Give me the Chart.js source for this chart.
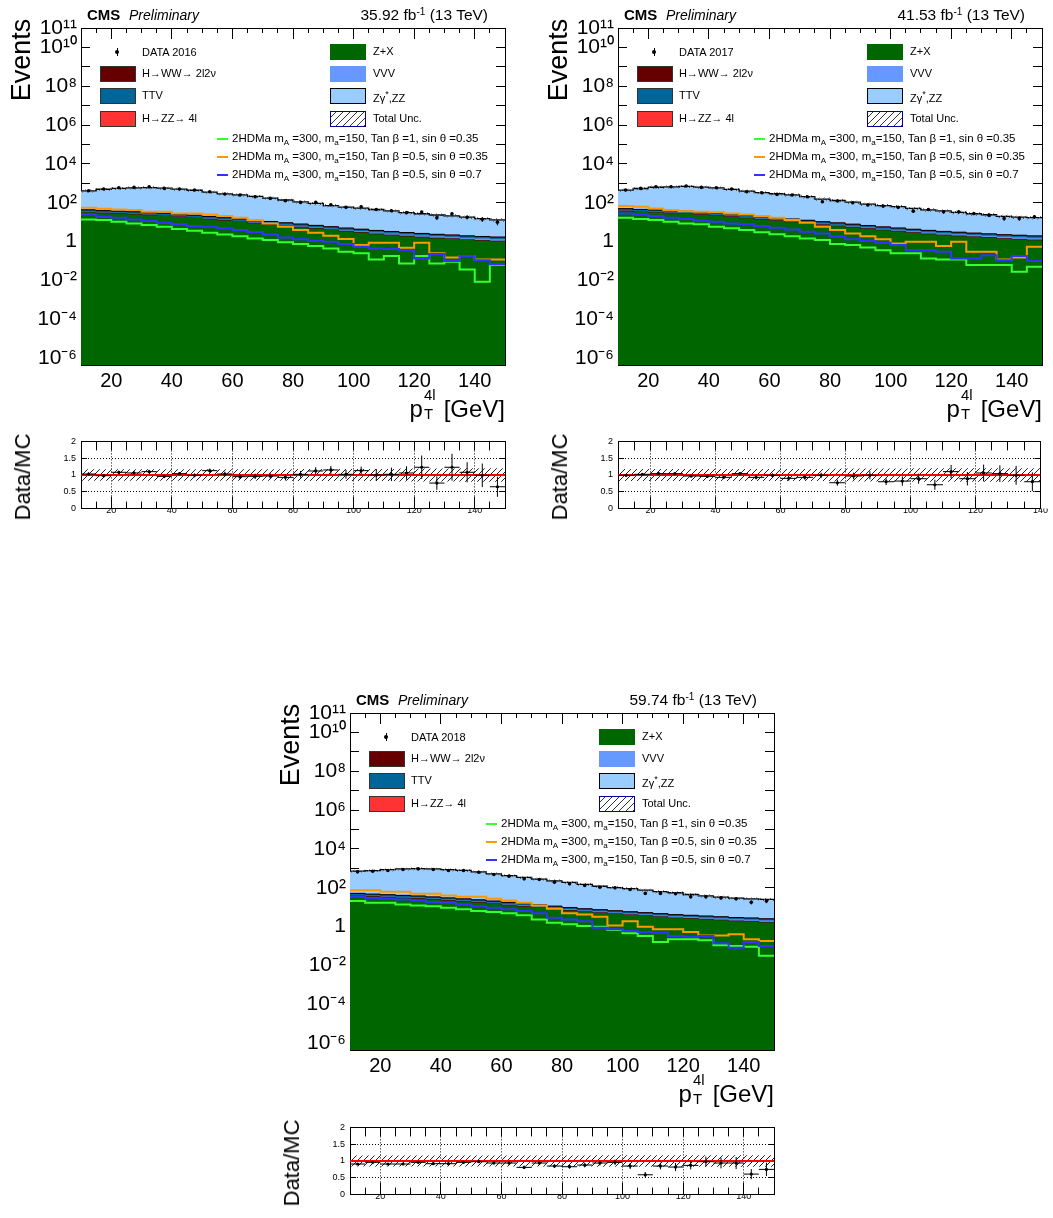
<!DOCTYPE html>
<html><head><meta charset="utf-8">
<script src="https://cdn.jsdelivr.net/npm/chart.js@4.4.1/dist/chart.umd.min.js"></script>
<style>
html,body{margin:0;padding:0;background:#fff;}
body{width:1053px;height:1218px;position:relative;overflow:hidden;font-family:'Liberation Sans',Arial,Helvetica,sans-serif;color:#000;}
canvas{position:absolute;}
.t{position:absolute;white-space:nowrap;line-height:1;}
.rot{position:absolute;white-space:nowrap;line-height:1;transform:translate(-50%,-50%) rotate(-90deg);}
.box{position:absolute;box-sizing:border-box;}
.lg{position:absolute;white-space:nowrap;line-height:1;font-size:11px;}
.sg{position:absolute;white-space:nowrap;line-height:1;font-size:11.5px;}
.sg sub{font-size:70%;vertical-align:-3px;line-height:0;}
</style></head><body>
<script>
const FONT = "'Liberation Sans', Arial, sans-serif";
Chart.defaults.font.family = FONT;
Chart.defaults.color = '#000';

// ---------- axes / categories ----------
const binEdges = [10,15,20,25,30,35,40,45,50,55,60,65,70,75,80,85,90,95,100,105,110,115,120,125,130,135,140,145,150];
const xMajorTicks = [20,40,60,80,100,120,140];
const yDecades = [-6,-5,-4,-3,-2,-1,0,1,2,3,4,5,6,7,8,9,10,11];
const yLabelled = [-6,-4,-2,0,2,4,6,8,10,11];
const ratioTicks = [0,0.5,1,1.5,2];
const ratioTickLabels = ['0','0.5','1','1.5','2'];
const Y_MIN = 4.4e-7, Y_MAX = 1e11;

// ---------- 2016 ----------
const data2016 = [416,507,594,618,668,548,507,450,369,280,249,204,167,127,104,104,79,58,62,45,39,31,33,17,27,18,14,10];
const zx2016  = [32,29,27,25,23,20.6,18.3,16.2,13.9,11.8,10.1,8.6,7.4,6.3,5.4,4.6,3.9,3.3,2.85,2.4,2.1,1.85,1.64,1.46,1.35,1.19,1.1,1.02];
const hww2016 = [0.9,0.8,0.75,0.7,0.65,0.6,0.5,0.45,0.4,0.35,0.3,0.26,0.22,0.19,0.16,0.14,0.12,0.1,0.09,0.08,0.07,0.06,0.055,0.05,0.045,0.04,0.035,0.03];
const vvv2016 = [1.2,1.1,1.1,1.0,1.0,0.95,0.9,0.85,0.8,0.75,0.7,0.65,0.6,0.55,0.5,0.46,0.43,0.4,0.37,0.35,0.33,0.31,0.3,0.29,0.28,0.27,0.26,0.25];
const ttv2016 = [9,8.5,8,7.5,7,6.5,6,5.3,4.6,4,3.5,3.0,2.6,2.2,1.9,1.6,1.35,1.15,1.0,0.9,0.8,0.7,0.62,0.55,0.5,0.46,0.43,0.4];
const hzz2016 = [0.3,0.3,0.3,0.28,0.26,0.24,0.22,0.2,0.18,0.16,0.14,0.12,0.1,0.09,0.08,0.07,0.06,0.05,0.045,0.04,0.035,0.03,0.027,0.024,0.021,0.019,0.017,0.015];
const zz2016  = [367,456,514,551,569,542,475,417,330,268,241,200,164,129,102,85,66,55,49,41,35,28,24.5,21,19,16,13.3,11.4];
const sigG2016 = [13.9,12.8,10.5,8.6,7.1,5.8,4.4,3.6,2.85,2.3,1.9,1.46,1.19,0.91,0.74,0.59,0.44,0.30,0.25,0.12,0.18,0.075,0.18,0.075,0.091,0.037,0.0085,0.062];
const sigO2016 = [55,49,45,42,34,34,28,28,25,20.6,16.9,12.8,8.6,5.8,3.9,2.85,2.0,1.35,0.66,0.87,0.87,0.48,0.87,0.25,0.153,0.179,0.12,0.12];
const sigB2016 = [25,19,16.9,13.9,11.4,9.3,7.7,6.3,5.8,4.8,3.9,3.1,2.3,1.6,1.3,1.1,0.98,0.74,0.54,0.44,0.41,0.36,0.135,0.23,0.10,0.18,0.11,0.067];
const unc2016 = [0.17,0.17,0.17,0.17,0.17,0.17,0.17,0.17,0.17,0.17,0.17,0.17,0.17,0.17,0.18,0.18,0.18,0.18,0.18,0.18,0.18,0.19,0.19,0.19,0.19,0.2,0.2,0.2];
const ratio2016 = [1.03,0.98,1.08,1.06,1.10,0.96,1.04,0.99,1.13,1.03,0.95,0.96,0.97,0.93,1.02,1.12,1.15,1.02,1.13,1.0,1.02,1.06,1.23,0.76,1.23,1.08,0.99,0.65];
const ratioErr2016 = [0.05,0.05,0.05,0.05,0.05,0.05,0.05,0.06,0.06,0.07,0.07,0.08,0.08,0.09,0.1,0.11,0.12,0.13,0.12,0.18,0.2,0.2,0.35,0.2,0.4,0.3,0.35,0.3];

// ---------- 2017 ----------
const data2017 = [450,548,668,668,723,618,594,507,369,328,269,249,204,113,122,100,76,67,58,37,45,34,34,28,23,15.6,15.6,19];
const zx2017  = [37,33,31,29,26.5,23.7,21,18.6,16,13.6,11.6,9.9,8.5,7.2,6.2,5.3,4.5,3.8,3.3,2.8,2.4,2.1,1.9,1.7,1.55,1.37,1.27,1.17];
const hww2017 = [1.0,0.9,0.85,0.8,0.75,0.7,0.6,0.52,0.46,0.4,0.35,0.3,0.25,0.22,0.18,0.16,0.14,0.12,0.1,0.09,0.08,0.07,0.063,0.058,0.052,0.046,0.04,0.035];
const vvv2017 = [1.4,1.3,1.3,1.2,1.15,1.1,1.05,1.0,0.92,0.86,0.8,0.75,0.7,0.63,0.58,0.53,0.5,0.46,0.43,0.4,0.38,0.36,0.35,0.33,0.32,0.31,0.3,0.29];
const ttv2017 = [10,9.8,9.2,8.6,8,7.5,6.9,6.1,5.3,4.6,4,3.5,3.0,2.5,2.2,1.85,1.55,1.3,1.15,1.0,0.9,0.8,0.71,0.63,0.57,0.53,0.5,0.46];
const hzz2017 = [0.35,0.35,0.35,0.32,0.3,0.28,0.25,0.23,0.21,0.18,0.16,0.14,0.12,0.1,0.09,0.08,0.07,0.06,0.05,0.045,0.04,0.035,0.03,0.028,0.025,0.022,0.02,0.017];
const zz2017  = [402,495,587,615,663,601,560,463,377,310,273,240,192,144,121,100,78,66,58,46.7,39.2,34.6,29,24.3,21.5,17.7,15.9,15];
const sigG2017 = [17,14.4,12.8,10.5,8.6,7.7,5.8,4.8,3.9,3.0,2.4,1.9,1.46,1.19,0.74,0.66,0.5,0.36,0.25,0.25,0.135,0.12,0.12,0.062,0.062,0.062,0.028,0.05];
const sigO2017 = [67,62,51,42,37,34,32,28,25,21,17,12.8,9.4,5.8,3.9,2.6,1.9,1.3,0.8,0.98,0.98,0.59,0.98,0.3,0.3,0.12,0.15,0.54];
const sigB2017 = [28,25,21,17,14.4,11.8,10.5,8.6,7.7,6.3,5.2,4.2,3.2,2.6,1.8,1.3,1.06,0.87,0.66,0.36,0.36,0.30,0.135,0.135,0.2,0.11,0.18,0.1];
const unc2017 = [0.18,0.18,0.18,0.18,0.18,0.18,0.18,0.18,0.18,0.18,0.18,0.18,0.18,0.19,0.19,0.19,0.19,0.19,0.2,0.2,0.2,0.2,0.2,0.2,0.2,0.2,0.2,0.2];
const ratio2017 = [0.99,1.02,1.04,1.04,0.97,0.96,0.93,1.04,0.93,0.99,0.90,0.93,0.99,0.77,0.97,0.99,0.80,0.82,0.89,0.71,1.10,0.89,1.06,1.04,0.99,0.80];
const ratioErr2017 = [0.04,0.04,0.04,0.04,0.05,0.05,0.05,0.05,0.06,0.06,0.07,0.07,0.08,0.09,0.1,0.12,0.1,0.14,0.15,0.15,0.2,0.2,0.25,0.25,0.28,0.28];

// ---------- 2018 ----------
const data2018 = [658,713,771,867,939,867,771,771,632,481,395,288,266,194,159,131,107,99,81,51,51,49,34,34,30,27,18,20.5];
const zx2018  = [37,34,31.6,29,27,24,21.3,18.9,16.8,14.4,12.3,10.5,9.0,7.7,6.5,5.6,5.0,4.4,3.9,3.5,3.1,2.7,2.5,2.3,2.1,1.9,1.8,1.6];
const hww2018 = [1.2,1.1,1.0,0.95,0.9,0.8,0.7,0.62,0.55,0.48,0.41,0.35,0.3,0.26,0.22,0.19,0.17,0.15,0.13,0.12,0.1,0.09,0.085,0.078,0.07,0.064,0.06,0.054];
const vvv2018 = [1.8,1.7,1.6,1.55,1.5,1.45,1.35,1.3,1.2,1.1,1.0,0.92,0.85,0.78,0.7,0.64,0.6,0.55,0.5,0.47,0.44,0.42,0.4,0.38,0.36,0.35,0.34,0.33];
const ttv2018 = [11,10,9.4,8.7,8,7.3,6.5,5.8,5.2,4.5,3.9,3.4,2.9,2.5,2.1,1.8,1.6,1.4,1.25,1.1,1.0,0.9,0.8,0.72,0.66,0.6,0.56,0.52];
const hzz2018 = [0.5,0.5,0.5,0.45,0.4,0.4,0.35,0.3,0.3,0.25,0.22,0.2,0.17,0.15,0.13,0.11,0.1,0.08,0.07,0.06,0.05,0.05,0.04,0.04,0.03,0.03,0.03,0.03];
const zz2018  = [673,713,806,889,922,901,820,753,626,499,402,325,267,217,178,142,112,96,84,70,58,51,41,34.5,29.8,26,24.2,22.5];
const sigG2018 = [20.5,16.8,16.8,13.8,12.3,11.3,9.3,7.7,6.3,5.6,4.8,3.8,2.3,1.58,1.3,1.06,0.98,0.66,0.45,0.33,0.16,0.22,0.22,0.2,0.108,0.10,0.092,0.031];
const sigO2018 = [75,75,62,62,49,49,40,34,34,27,22,16.8,12.3,8.3,4.8,4.2,3.2,1.15,1.9,0.98,0.72,0.72,0.52,0.35,0.35,0.40,0.22,0.18];
const sigB2018 = [34,30,27,25,22,18.2,16.8,13.8,11.3,9.3,7.7,6.3,4.8,2.85,2.3,1.9,0.87,0.72,0.59,0.52,0.48,0.33,0.30,0.33,0.137,0.082,0.16,0.10];
const unc2018 = [0.16,0.16,0.16,0.16,0.16,0.16,0.16,0.16,0.16,0.16,0.16,0.16,0.16,0.16,0.16,0.16,0.17,0.17,0.17,0.17,0.17,0.17,0.17,0.17,0.17,0.17,0.17,0.17];
const ratio2018 = [0.91,0.96,0.91,0.91,0.96,0.92,0.92,0.96,0.98,0.94,0.94,0.81,0.94,0.85,0.83,0.88,0.94,0.96,0.85,0.59,0.85,0.82,0.87,0.98,0.94,0.94,0.61,0.75];
const ratioErr2018 = [0.03,0.03,0.03,0.03,0.03,0.03,0.03,0.03,0.04,0.04,0.05,0.05,0.05,0.06,0.06,0.07,0.07,0.08,0.09,0.08,0.1,0.12,0.12,0.15,0.16,0.18,0.15,0.2];

// ---------- legend / labels ----------
const stackNames = ['Z+X','H→WW→ 2l2ν','VVV','TTV','H→ZZ→ 4l','Zγ<sup>*</sup>,ZZ'];
const stackColors = ['#006600','#660000','#6699ff','#006699','#ff3333','#99ccff'];
const stackLines  = ['#006600','#4a0000','#5a8ae6','#000000','#cc2222','#000000'];
const stackLineW  = [0,0.8,0.8,1,0.6,1.3];
const sigNames = ['2HDMa m<sub>A</sub> =300, m<sub>a</sub>=150, Tan β =1, sin θ =0.35','2HDMa m<sub>A</sub> =300, m<sub>a</sub>=150, Tan β =0.5, sin θ =0.35','2HDMa m<sub>A</sub> =300, m<sub>a</sub>=150, Tan β =0.5, sin θ =0.7'];
const sigColors = ['#33ff33','#ff9900','#3333ff'];

const panels = [
  {year:'2016', lumi:'35.92', dx:0,   dy:0,   dyr:0,   data:data2016, zx:zx2016, hww:hww2016, vvv:vvv2016, ttv:ttv2016, hzz:hzz2016, zz:zz2016, sig:[sigG2016,sigO2016,sigB2016], unc:unc2016, ratio:ratio2016, ratioErr:ratioErr2016},
  {year:'2017', lumi:'41.53', dx:537, dy:0,   dyr:0,   data:data2017, zx:zx2017, hww:hww2017, vvv:vvv2017, ttv:ttv2017, hzz:hzz2017, zz:zz2017, sig:[sigG2017,sigO2017,sigB2017], unc:unc2017, ratio:ratio2017, ratioErr:ratioErr2017},
  {year:'2018', lumi:'59.74', dx:269, dy:685, dyr:686, data:data2018, zx:zx2018, hww:hww2018, vvv:vvv2018, ttv:ttv2018, hzz:hzz2018, zz:zz2018, sig:[sigG2018,sigO2018,sigB2018], unc:unc2018, ratio:ratio2018, ratioErr:ratioErr2018}
];

// ---------- helpers ----------
const SUPS = {'0':'⁰','1':'¹','2':'²','3':'³','4':'⁴','5':'⁵','6':'⁶','7':'⁷','8':'⁸','9':'⁹','-':'⁻'};
function supStr(n){ return String(n).split('').map(c=>SUPS[c]).join(''); }
function el(cls, html, css){ const e=document.createElement('div'); e.className=cls; e.innerHTML=html; Object.assign(e.style, css); document.body.appendChild(e); return e; }
function addCanvas(left, top, w, h){ const c=document.createElement('canvas'); c.width=w; c.height=h; Object.assign(c.style,{left:left+'px',top:top+'px',width:w+'px',height:h+'px'}); document.body.appendChild(c); return c; }
function makeHatch(color, size){
  const c=document.createElement('canvas'); c.width=size; c.height=size;
  const g=c.getContext('2d'); g.strokeStyle=color; g.lineWidth=1;
  g.beginPath();
  g.moveTo(0,size); g.lineTo(size,0);
  g.moveTo(-size/2,size/2); g.lineTo(size/2,-size/2);
  g.moveTo(size/2,size*1.5); g.lineTo(size*1.5,size/2);
  g.stroke();
  return g.createPattern(c,'repeat');
}
const hatchGrey = makeHatch('#555', 5);
const hatchBlack = makeHatch('#222', 6);
const NONE = 'rgba(0,0,0,0)';
function hist(vals, edges){ edges = edges || binEdges; const p = vals.map((v,i)=>({x:edges[i], y:v})); p.push({x:edges[vals.length], y:vals[vals.length-1]}); return p; }
function centers(n){ return binEdges.slice(0,n).map((e,i)=>(e+binEdges[i+1])/2); }

function tickOnly(axis, position, values, len, min, max, type, weight, border){
  return {type:type, axis:axis, position:position, min:min, max:max, weight:weight, z:1,
    afterBuildTicks: s => { s.ticks = values.map(v=>({value:v})); },
    afterFit: s => { if(axis==='x') s.height=0; else s.width=0; },
    ticks:{display:false},
    grid:{drawOnChartArea:false, drawTicks:true, tickLength:-len, color:'#000', lineWidth:1},
    border:{display:!!border, color:'#000', width:1}};
}

// ---------- main plots ----------
function buildMain(P){
  const cv = addCanvas(P.dx, P.dy, 520, 400);
  const comps = [P.zx, P.hww, P.vvv, P.ttv, P.hzz, P.zz];
  const stack = []; let acc = P.zx.map(()=>0);
  comps.forEach(arr=>{ acc = acc.map((a,i)=>a+arr[i]); stack.push(acc.slice()); });
  const total = stack[stack.length-1];
  const cs = centers(P.data.length);
  const err = [];
  P.data.forEach((v,i)=>{ const e=Math.sqrt(v); err.push({x:cs[i],y:v-e},{x:cs[i],y:v+e},{x:cs[i],y:null}); });
  const ds = [];
  ds.push({data:err, borderColor:'#000', borderWidth:1, pointRadius:0, fill:false, spanGaps:false});
  ds.push({data:P.data.map((v,i)=>({x:cs[i],y:v})), showLine:false, pointRadius:1.8, pointBackgroundColor:'#000', pointBorderColor:'#000', pointBorderWidth:0});
  [2,1,0].forEach(k=>ds.push({data:hist(P.sig[k]), stepped:true, borderColor:sigColors[k], borderWidth:2, pointRadius:0, fill:false}));
  ds.push({data:hist(total.map((t,i)=>t*(1+P.unc[i]))), stepped:true, borderColor:NONE, borderWidth:1, pointRadius:0, fill:'+1', backgroundColor:hatchGrey});
  ds.push({data:hist(total.map((t,i)=>t*(1-P.unc[i]))), stepped:true, borderColor:NONE, borderWidth:1, pointRadius:0, fill:false});
  // smallest cumulative first => drawn on top
  for(let k=0;k<stack.length;k++) ds.push({data:hist(stack[k]), stepped:true, fill:'start', backgroundColor:stackColors[k],
     borderColor:(stackLineW[k]>0?stackLines[k]:NONE), borderWidth:(stackLineW[k]>0?stackLineW[k]:1), pointRadius:0});
  ds.forEach(d=>{d.xAxisID='x'; d.yAxisID='y';});
  new Chart(cv, {type:'line', data:{datasets:ds}, options:{
    responsive:false, animation:false, devicePixelRatio:1, events:[],
    layout:{padding:{top:28,right:15,left:0,bottom:0}},
    plugins:{legend:{display:false}, tooltip:{enabled:false}},
    scales:{
      x:{type:'linear', axis:'x', position:'bottom', min:10, max:150, weight:1, z:1,
         afterBuildTicks: s=>{ s.ticks = xMajorTicks.map(v=>({value:v})); },
         afterFit: s=>{ s.height=35; },
         ticks:{autoSkip:false, maxRotation:0, padding:18, color:'#000', font:{size:20}, callback:v=>String(v)},
         grid:{drawOnChartArea:false, tickLength:-14, color:'#000', lineWidth:1},
         border:{display:true, color:'#000', width:1}},
      xm: tickOnly('x','bottom', binEdges, 7, 10, 150, 'linear', 0, false),
      xt: tickOnly('x','top', xMajorTicks, 11, 10, 150, 'linear', 1, true),
      xtm: tickOnly('x','top', binEdges, 5, 10, 150, 'linear', 0, false),
      y:{type:'logarithmic', axis:'y', position:'left', min:Y_MIN, max:Y_MAX, z:1,
         afterBuildTicks: s=>{ s.ticks = yDecades.map(e=>({value:Math.pow(10,e)})); },
         afterFit: s=>{ s.width=81; },
         ticks:{autoSkip:false, padding:13, color:'#000', font:{size:21},
           callback:(v)=>{ const e=Math.round(Math.log10(v)); if(!yLabelled.includes(e)) return ''; return e===0?'1':'10'+supStr(e); }},
         grid:{drawOnChartArea:false, tickLength:-9, color:'#000', lineWidth:1},
         border:{display:true, color:'#000', width:1}},
      yr: tickOnly('y','right', yDecades.map(e=>Math.pow(10,e)), 9, Y_MIN, Y_MAX, 'logarithmic', 0, true)
    }
  }});
}

// ---------- ratio plots ----------
function buildRatio(P){
  const n = P.ratio.length, rmax = binEdges[n];
  const cv = addCanvas(P.dx, 425 + P.dyr, 520, 100);
  const cs = centers(n);
  const err = [];
  P.ratio.forEach((r,i)=>{ const e=P.ratioErr[i];
    err.push({x:cs[i],y:r-e},{x:cs[i],y:r+e},{x:cs[i],y:null},{x:binEdges[i],y:r},{x:binEdges[i+1],y:r},{x:cs[i],y:null}); });
  const unc = P.unc.slice(0,n);
  const ds = [
    {data:err, borderColor:'#000', borderWidth:1, pointRadius:0, fill:false, spanGaps:false},
    {data:P.ratio.map((r,i)=>({x:cs[i],y:r})), showLine:false, pointRadius:1.6, pointBackgroundColor:'#000', pointBorderWidth:0},
    {data:[{x:10,y:1},{x:rmax,y:1}], borderColor:'#ff0000', borderWidth:2, pointRadius:0, fill:false},
    {data:hist(unc.map(u=>1+u)), stepped:true, borderColor:NONE, borderWidth:1, pointRadius:0, fill:'+1', backgroundColor:hatchBlack},
    {data:hist(unc.map(u=>1-u)), stepped:true, borderColor:NONE, borderWidth:1, pointRadius:0, fill:false}
  ];
  ds.forEach(d=>{d.xAxisID='x'; d.yAxisID='y';});
  const minorX = binEdges.filter(v=>v<=rmax);
  const majX = xMajorTicks.filter(v=>v<=rmax);
  new Chart(cv, {type:'line', data:{datasets:ds}, options:{
    responsive:false, animation:false, devicePixelRatio:1, events:[],
    layout:{padding:{top:8,right:15,left:0,bottom:0}},
    plugins:{legend:{display:false}, tooltip:{enabled:false}},
    scales:{
      x:{type:'linear', axis:'x', position:'bottom', min:10, max:rmax, weight:1, z:1,
         afterBuildTicks: s=>{ s.ticks = majX.map(v=>({value:v})); },
         afterFit: s=>{ s.height=15; },
         ticks:{autoSkip:false, maxRotation:0, padding:9, color:'#000', font:{size:9}, callback:v=>String(v)},
         grid:{drawOnChartArea:true, tickLength:-12, color:'#000', lineWidth:1, tickBorderDash:[]},
         border:{display:true, color:'#000', width:1, dash:[1,2]}},
      xm: tickOnly('x','bottom', minorX, 7, 10, rmax, 'linear', 0, false),
      xt: tickOnly('x','top', minorX, 9, 10, rmax, 'linear', 0, true),
      y:{type:'linear', axis:'y', position:'left', min:0, max:2, z:1,
         afterBuildTicks: s=>{ s.ticks = ratioTicks.map(v=>({value:v})); },
         afterFit: s=>{ s.width=81; },
         ticks:{autoSkip:false, padding:11, color:'#000', font:{size:9}, callback:(v,i)=>ratioTickLabels[ratioTicks.indexOf(v)]},
         grid:{drawOnChartArea:true, tickLength:-6, lineWidth:1, tickBorderDash:[],
               color: c => (c.tick && (c.tick.value===0 || c.tick.value===2)) ? NONE : '#000'},
         border:{display:true, color:'#000', width:1, dash:[1,2]}},
      yr: tickOnly('y','right', ratioTicks, 6, 0, 2, 'linear', 0, true)
    }
  }});
}

// ---------- texts + legends ----------
function buildTexts(P){
  const dx=P.dx, dy=P.dy, dyr=P.dyr;
  el('t', '<b>CMS</b>', {left:(87+dx)+'px', top:(7+dy)+'px', fontSize:'15px'});
  el('t', '<i>Preliminary</i>', {left:(129+dx)+'px', top:(8+dy)+'px', fontSize:'14px'});
  el('t', P.lumi+' fb<sup style="font-size:65%;vertical-align:5px;line-height:0">-1</sup> (13 TeV)', {right:(1053-488-dx)+'px', top:(7+dy)+'px', fontSize:'15.5px'});
  el('rot', 'Events', {left:(21+dx)+'px', top:(60+dy)+'px', fontSize:'27px'});
  el('t', 'p<span style="display:inline-block;position:relative;width:14px;height:1em;"><span style="position:absolute;left:1px;top:-0.32em;font-size:62%">4l</span><span style="position:absolute;left:1px;top:0.92em;font-size:62%">T</span></span> [GeV]',
     {right:(1053-505-dx)+'px', top:(393+dy)+'px', fontSize:'24px'});
  el('rot', 'Data/MC', {left:(23+dx)+'px', top:(477+dyr)+'px', fontSize:'22px'});
  // legend left column
  el('box','', {left:(115+dx)+'px', top:(50+dy)+'px', width:'4px', height:'4px', borderRadius:'2px', background:'#000'});
  el('box','', {left:(116.5+dx)+'px', top:(48+dy)+'px', width:'1px', height:'8px', background:'#000'});
  el('lg', 'DATA '+P.year, {left:(142+dx)+'px', top:(47+dy)+'px'});
  const leftRows = [[1,74],[3,96],[4,119]];
  leftRows.forEach(([k,y])=>{
    el('box','', {left:(100+dx)+'px', top:(y-8+dy)+'px', width:'36px', height:'16px', background:stackColors[k], border:'1px solid #333'});
    el('lg', stackNames[k], {left:(142+dx)+'px', top:(y-6+dy)+'px'});
  });
  const rightRows = [[0,52],[2,74],[5,96]];
  rightRows.forEach(([k,y])=>{
    el('box','', {left:(330+dx)+'px', top:(y-8+dy)+'px', width:'36px', height:'16px', background:stackColors[k], border:'1px solid '+(k===5?'#000':stackColors[k])});
    el('lg', stackNames[k], {left:(373+dx)+'px', top:(y-6+dy)+'px'});
  });
  el('box','', {left:(330+dx)+'px', top:(111+dy)+'px', width:'36px', height:'16px', border:'1.5px solid #000099',
     background:'repeating-linear-gradient(-45deg, #333 0 1px, #fff 1px 5px)'});
  el('lg', 'Total Unc.', {left:(373+dx)+'px', top:(113+dy)+'px'});
  [139,157,175].forEach((y,k)=>{
    el('box','', {left:(217+dx)+'px', top:(y-1+dy)+'px', width:'11px', height:'2px', background:sigColors[k]});
    el('sg', sigNames[k], {left:(232+dx)+'px', top:(y-6+dy)+'px'});
  });
}

panels.forEach(P=>{ buildMain(P); buildRatio(P); buildTexts(P); });
</script>
</body></html>
